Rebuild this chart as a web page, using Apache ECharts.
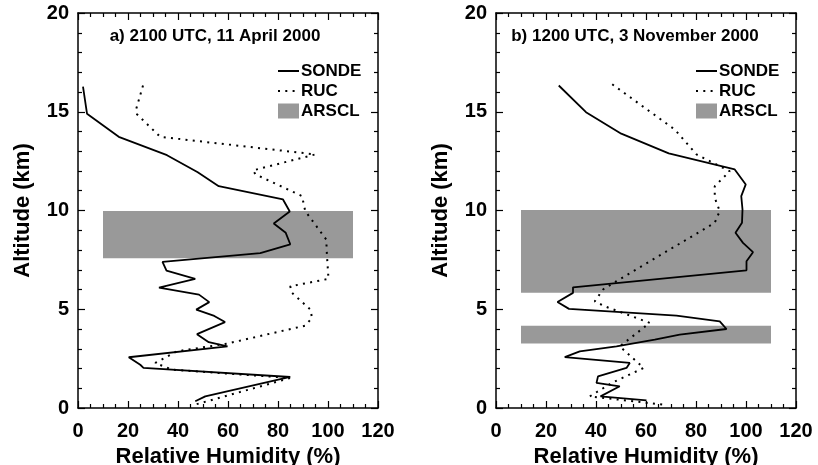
<!DOCTYPE html>
<html>
<head>
<meta charset="utf-8">
<script src="https://cdn.jsdelivr.net/npm/echarts@6/dist/echarts.min.js"></script>
<style>html,body{margin:0;padding:0;background:#fff}#c{width:818px;height:465px}</style>
</head>
<body>
<div id="c"></div>
<script>
// ---- data: [relative humidity %, altitude km] ----
var sondeA = [[2,16.27],[3.6,14.9],[16.3,13.73],[35.6,12.8],[47.9,11.94],[56.3,11.23],[82,10.56],[84.7,9.95],[78.3,9.34],[83.1,8.87],[84.9,8.29],[72.9,7.84],[33.8,7.40],[35.4,6.95],[46.9,6.54],[32.4,6.10],[48.4,5.74],[52.5,5.36],[47.3,4.98],[54.5,4.66],[58.8,4.35],[47.6,3.74],[52.3,3.33],[59.8,3.12],[20.3,2.57],[24.9,2.19],[26.2,2.03],[84.9,1.57],[50.9,0.59],[46.9,0.34]];
var rucA = [[26,16.33],[24.2,15.54],[23.3,15.15],[23.6,14.87],[32.9,13.73],[94.9,12.84],[70,12.03],[71,11.83],[89.6,10.73],[90.9,9.97],[99.3,8.53],[99.6,7.68],[100.2,6.54],[84.9,6.16],[85.6,5.83],[93,4.98],[93.6,4.56],[90.9,4.17],[59.6,3.26],[39.6,2.87],[30.9,2.28],[37.6,1.94],[84.9,1.52],[46.8,0.17]];
var arsclA = [[7.58,9.97]];
var sondeB = [[25.1,16.33],[36,14.98],[50.1,13.89],[69.1,12.89],[95.5,12.08],[99.9,11.32],[98.1,10.73],[98.6,10.05],[98.4,9.38],[95.8,8.87],[98.8,8.36],[102.8,7.89],[100.2,7.43],[100.2,6.97],[30.8,6.11],[30.8,5.83],[24.6,5.37],[29.2,5.02],[72.2,4.68],[89.5,4.39],[92.2,4.0],[73.5,3.72],[63.5,3.46],[48.2,3.12],[33.5,2.87],[27.5,2.58],[53.5,2.28],[52.2,2.03],[40.8,1.6],[40.2,1.27],[49.5,1.1],[41.8,0.59],[60.2,0.39]];
var rucB = [[46.5,16.39],[71.5,14.1],[80.2,12.84],[85.5,12.5],[93.5,11.99],[87.5,11.23],[87.5,10.64],[89.5,9.97],[87.5,9.38],[48.2,6.42],[42.8,6.0],[39.5,5.4],[43.5,5.15],[61.5,4.31],[49.5,3.12],[59.1,2.03],[46.8,1.3],[37.5,0.59],[66.8,0.17]];
var arsclB = [[5.83,10.02],[3.26,4.17]];
var arsclX = [10, 110];
var titles = ['a) 2100 UTC, 11 April 2000', 'b) 1200 UTC, 3 November 2000'];
var legendNames = ['SONDE', 'RUC', 'ARSCL'];

var FONT = '"Liberation Sans", Arial, Helvetica, sans-serif';
var grids = [
  {left: 78, top: 13, width: 300, height: 395, containLabel: false, outerBoundsMode: 'none'},
  {left: 496, top: 13, width: 300, height: 395, containLabel: false, outerBoundsMode: 'none'}
];
function xAx(g, pos, labels) {
  return {
    type: 'value', gridIndex: g, position: pos, min: 0, max: 120, interval: 20,
    name: labels ? 'Relative Humidity (%)' : '', nameLocation: 'middle', nameGap: 37,
    nameTextStyle: {fontSize: 22, fontWeight: 'bold', color: '#000', fontFamily: FONT},
    axisLine: {show: true, onZero: false, lineStyle: {color: '#000', width: 1.5}},
    axisTick: {show: true, inside: true, length: 7, lineStyle: {color: '#000', width: 1.2}},
    minorTick: {show: true, splitNumber: 4, length: 4, lineStyle: {color: '#000', width: 1.2}},
    axisLabel: {show: labels, margin: 13, fontSize: 20, fontWeight: 'bold', color: '#000', fontFamily: FONT},
    splitLine: {show: false}
  };
}
function yAx(g, pos, labels) {
  return {
    type: 'value', gridIndex: g, position: pos, min: 0, max: 20, interval: 5,
    name: labels ? 'Altitude (km)' : '', nameLocation: 'middle', nameGap: 44,
    nameTextStyle: {fontSize: 22, fontWeight: 'bold', color: '#000', fontFamily: FONT},
    axisLine: {show: true, onZero: false, lineStyle: {color: '#000', width: 1.5}},
    axisTick: {show: true, inside: true, length: 7, lineStyle: {color: '#000', width: 1.2}},
    minorTick: {show: true, splitNumber: 5, length: 4, lineStyle: {color: '#000', width: 1.2}},
    axisLabel: {show: labels, margin: 9, fontSize: 20, fontWeight: 'bold', color: '#000', fontFamily: FONT},
    splitLine: {show: false}
  };
}
function bandData(bands) {
  return bands.map(function (b) {
    return [{xAxis: arsclX[0], yAxis: b[0]}, {xAxis: arsclX[1], yAxis: b[1]}];
  });
}
function panelSeries(xi, yi, sonde, ruc, bands) {
  return [
    {name: 'ARSCL', type: 'line', xAxisIndex: xi, yAxisIndex: yi, data: [], symbol: 'none', z: 1,
     itemStyle: {color: '#999'}, lineStyle: {color: '#999'},
     markArea: {silent: true, itemStyle: {color: '#999'}, data: bandData(bands)}},
    {name: 'SONDE', type: 'line', xAxisIndex: xi, yAxisIndex: yi, data: sonde, symbol: 'none', z: 3,
     itemStyle: {color: '#000'}, lineStyle: {color: '#000', width: 1.8}},
    {name: 'RUC', type: 'line', xAxisIndex: xi, yAxisIndex: yi, data: ruc, symbol: 'none', z: 3,
     itemStyle: {color: '#000'}, lineStyle: {color: '#000', width: 2, type: [2, 5.3]}}
  ];
}
function legend(left) {
  return {
    orient: 'vertical', left: left, top: 61, padding: 0, itemGap: 0, itemWidth: 21, itemHeight: 15,
    selectedMode: false,
    data: [
      {name: legendNames[0], itemStyle: {opacity: 0}},
      {name: legendNames[1], itemStyle: {opacity: 0}},
      {name: legendNames[2], icon: 'rect'}
    ],
    textStyle: {fontSize: 17, fontWeight: 'bold', color: '#000', fontFamily: FONT, lineHeight: 20, padding: [0, 0, 0, -3]}
  };
}
var chart = echarts.init(document.getElementById('c'), null, {renderer: 'canvas'});
chart.setOption({
  animation: false,
  backgroundColor: '#fff',
  title: [
    {text: titles[0], left: 215, top: 28, textAlign: 'center', padding: 0,
     textStyle: {fontSize: 17, fontWeight: 'bold', color: '#000', fontFamily: FONT}},
    {text: titles[1], left: 635, top: 28, textAlign: 'center', padding: 0,
     textStyle: {fontSize: 17, fontWeight: 'bold', color: '#000', fontFamily: FONT}}
  ],
  legend: [legend(277), legend(695)],
  grid: grids,
  xAxis: [xAx(0, 'bottom', true), xAx(0, 'top', false), xAx(1, 'bottom', true), xAx(1, 'top', false)],
  yAxis: [yAx(0, 'left', true), yAx(0, 'right', false), yAx(1, 'left', true), yAx(1, 'right', false)],
  series: [].concat(panelSeries(0, 0, sondeA, rucA, arsclA), panelSeries(2, 2, sondeB, rucB, arsclB))
});
</script>
</body>
</html>
